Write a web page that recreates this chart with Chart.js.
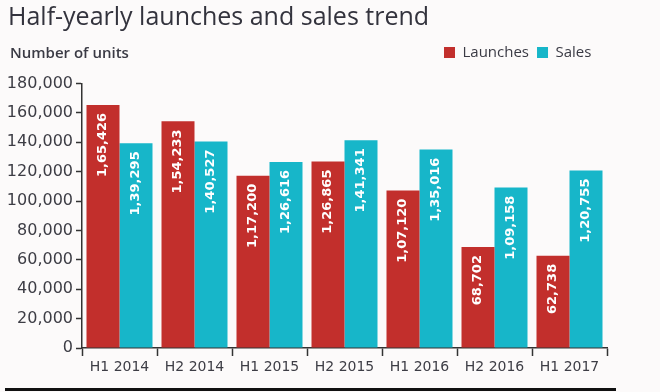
<!DOCTYPE html>
<html>
<head>
<meta charset="utf-8">
<script src="https://cdn.jsdelivr.net/npm/chart.js@4.4.1/dist/chart.umd.min.js"></script>
<style>
  html, body { margin: 0; padding: 0; background: #fcfafa; }
  #wrap { width: 660px; height: 392px; position: relative; }
</style>
</head>
<body>
<div id="wrap"><canvas id="grafica"></canvas></div>
<script>
// datos del gráfico
const periodos = ['H1 2014', 'H2 2014', 'H1 2015', 'H2 2015', 'H1 2016', 'H2 2016', 'H1 2017'];
const lanzamientos = [165426, 154233, 117200, 126865, 107120, 68702, 62738];
const ventas = [139295, 140527, 126616, 141341, 135016, 109158, 120755];
const ejeY = { min: 0, max: 180000, paso: 20000 };

const rojo = '#c22f2c';
const turquesa = '#17b6c9';
const gris = '#3a3a44';

// formato indio para las etiquetas de las barras (1,65,426)
function formatoIndio(n) {
    const s = String(Math.round(n));
    if (s.length <= 3) return s;
    let ultimos = s.slice(-3);
    let resto = s.slice(0, -3);
    const partes = [];
    while (resto.length > 2) {
        partes.unshift(resto.slice(-2));
        resto = resto.slice(0, -2);
    }
    if (resto) partes.unshift(resto);
    return partes.join(',') + ',' + ultimos;
}

// etiquetas verticales dentro de las barras
const etiquetasBarras = {
    id: 'etiquetasBarras',
    afterDatasetsDraw(chart) {
        const ctx = chart.ctx;
        ctx.save();
        ctx.fillStyle = '#ffffff';
        ctx.font = 'bold 13px "DejaVu Sans"';
        ctx.textAlign = 'right';
        ctx.textBaseline = 'middle';
        chart.data.datasets.forEach((ds, i) => {
            chart.getDatasetMeta(i).data.forEach((bar, j) => {
                ctx.save();
                ctx.translate(bar.x, bar.y + 8);
                ctx.rotate(-Math.PI / 2);
                ctx.fillText(formatoIndio(ds.data[j]), 0, 0);
                ctx.restore();
            });
        });
        ctx.restore();
    }
};

// subtítulo, línea inferior y ajuste de la leyenda
const extras = {
    id: 'extras',
    beforeInit(chart) {
        const fitOriginal = chart.legend.fit;
        chart.legend.fit = function () {
            fitOriginal.call(this);
            this.height = 46.5;
        };
    },
    afterLayout(chart) {
        const ancho = chart.legend.right - chart.legend.left;
        chart.legend.left = 436;
        chart.legend.right = 436 + ancho;
    },
    afterDraw(chart) {
        const ctx = chart.ctx;
        ctx.save();
        ctx.fillStyle = gris;
        ctx.font = '600 15px "Open Sans"';
        ctx.textAlign = 'left';
        ctx.textBaseline = 'middle';
        ctx.fillText('Number of units', 10, 54);
        ctx.fillStyle = '#111111';
        ctx.fillRect(5, 388, 611, 3);
        ctx.restore();
    }
};

const ctx = document.getElementById('grafica').getContext('2d');
const chart = new Chart(ctx, {
    type: 'bar',
    data: {
        labels: periodos,
        datasets: [{
            label: 'Launches',
            data: lanzamientos,
            backgroundColor: rojo,
            borderWidth: 0
        }, {
            label: 'Sales',
            data: ventas,
            backgroundColor: turquesa,
            borderWidth: 0
        }]
    },
    options: {
        responsive: true,
        maintainAspectRatio: false,
        animation: false,
        categoryPercentage: 0.88,
        barPercentage: 1.0,
        layout: {
            padding: { left: 8, right: 53, top: 0, bottom: 0 }
        },
        plugins: {
            title: {
                display: true,
                text: 'Half-yearly launches and sales trend',
                align: 'start',
                color: '#33333d',
                font: { family: '"Open Sans"', size: 25, weight: 'normal' },
                padding: { top: 3, bottom: 4 }
            },
            legend: {
                display: true,
                position: 'top',
                align: 'start',
                labels: {
                    boxWidth: 11,
                    boxHeight: 11,
                    padding: 8,
                    color: gris,
                    font: { family: '"Open Sans"', size: 15 }
                }
            },
            tooltip: { enabled: false }
        },
        scales: {
            x: {
                grid: {
                    display: true,
                    drawOnChartArea: false,
                    drawTicks: true,
                    tickLength: 8,
                    tickWidth: 1.5,
                    tickColor: '#333333',
                    offset: true
                },
                border: { display: true, color: '#333333', width: 1.5 },
                ticks: {
                    color: '#3d3d45',
                    padding: 3,
                    font: { family: '"DejaVu Sans"', size: 14 }
                },
                afterFit(scale) { scale.height = 44; }
            },
            y: {
                min: ejeY.min,
                max: ejeY.max,
                grid: {
                    display: true,
                    drawOnChartArea: false,
                    drawTicks: true,
                    tickLength: 6,
                    tickWidth: 1.5,
                    tickColor: '#333333'
                },
                border: { display: true, color: '#333333', width: 1.5 },
                ticks: {
                    stepSize: ejeY.paso,
                    color: '#3d3d45',
                    padding: 3,
                    font: { family: '"DejaVu Sans"', size: 16 },
                    callback: (v) => v.toLocaleString('en-US')
                },
                afterFit(scale) { scale.width = 74; }
            }
        }
    },
    plugins: [etiquetasBarras, extras]
});
</script>
</body>
</html>
